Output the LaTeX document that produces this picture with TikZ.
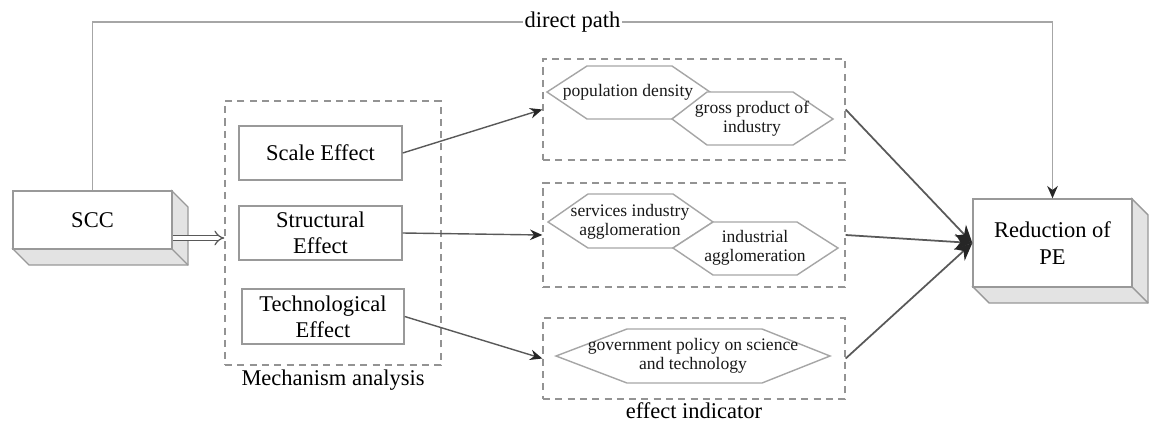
\documentclass[tikz,border=0pt]{standalone}
\usepackage{fontspec}
\setmainfont{Liberation Serif}
\usetikzlibrary{arrows.meta,positioning}

\tikzset{
  effbox/.style={draw=gray!80, line width=0.8pt, fill=white, minimum width=3.26cm, minimum height=1.08cm, align=center, font=\fontsize{12.8}{15}\selectfont},
  cubebox/.style={draw=gray!80, line width=0.8pt, fill=white, minimum width=3.18cm, align=center, font=\fontsize{12.8}{15}\selectfont},
  groupbox/.style={draw=gray!85, dashed, line width=0.8pt, dash pattern=on 4pt off 3pt},
  hexa/.style={draw=gray!70, line width=0.8pt, fill=white},
  hextext/.style={align=center, text=black!90, font=\fontsize{10}{10.8}\selectfont},
  conn/.style={draw=gray!70!black, line width=0.8pt, -{Stealth[length=7pt,width=6pt,color=black!85]}},
}

\begin{document}
\begin{tikzpicture}[x=0.02cm,y=-0.02cm]
		\useasboundingbox (0,0) rectangle (1152,423);
		% Draw 3D boxes
		\fill [gray!22, draw=gray!80, line width=0.8pt] (172,191) -- (188,207) -- (188,265) -- (29,265) -- (13,249) -- (172,249) -- cycle;
		\draw [gray!80, line width=0.8pt] (172,249) -- (188,265);
		\node [cubebox, minimum height=1.16cm] (scc) at (92.5,220) {SCC};
		\fill [gray!22, draw=gray!80, line width=0.8pt] (1132,199) -- (1148,215) -- (1148,303) -- (989,303) -- (973,287) -- (1132,287) -- cycle;
		\draw [gray!80, line width=0.8pt] (1132,287) -- (1148,303);
		\node [cubebox, minimum height=1.76cm] (red) at (1052.5,243) {Reduction of\\PE};
		% Draw mechanism analysis
		\node [groupbox, minimum width=4.32cm, minimum height=5.28cm] (mech) at (333,233) {};
		\node [anchor=base, font=\fontsize{12.8}{15}\selectfont] (mechlabel) at ([yshift=-0.4cm]mech.south) {Mechanism analysis};
		\node [effbox] (scale) at (320.5,153) {Scale Effect};
		\node [effbox] (struct) at (320.5,233) {Structural\\Effect};
		\node [effbox, minimum width=3.24cm, minimum height=1.1cm] (tech) at (323,316.5) {Technological\\Effect};
		% Draw effect indicator groups
		\node [groupbox, minimum width=6.04cm, minimum height=2.02cm] (g1) at (694,109.5) {};
		\node [groupbox, minimum width=6.04cm, minimum height=2.08cm] (g2) at (694,235) {};
		\node [groupbox, minimum width=6.04cm, minimum height=1.62cm] (g3) at (694,358.5) {};
		\node [anchor=base, font=\fontsize{12.8}{15}\selectfont, inner ysep=0pt] (efflabel) at ([yshift=-0.37cm]g3.south) {effect indicator};
		% Draw hexagons
		\draw [hexa] (547,92) -- (587,66) -- (672,66) -- (710,92) -- (672,119) -- (587,119) -- cycle;
		\draw [hexa] (672,119) -- (707,92) -- (793,92) -- (833,119) -- (793,145) -- (707,145) -- cycle;
		\draw [hexa] (548,222) -- (588,194) -- (673,194) -- (713,222) -- (673,248) -- (588,248) -- cycle;
		\draw [hexa] (673,248) -- (713,222) -- (797,222) -- (838,248) -- (797,275) -- (713,275) -- cycle;
		\draw [hexa] (556,356) -- (627,329) -- (762,329) -- (830,356) -- (762,383) -- (627,383) -- cycle;
		\node [hextext] (popd) at (628,92) {population density};
		\node [hextext] (gpi) at (752,119) {gross product of\\industry};
		\node [hextext] (sia) at (630,222) {services industry\\agglomeration};
		\node [hextext] (ia) at (755,248) {industrial\\agglomeration};
		\node [hextext] (gps) at (693,356) {government policy on science\\and technology};
		% Draw connectors
		\draw [conn] (scale.east) -- (g1.west);
		\draw [conn] (struct.east) -- (g2.west);
		\draw [conn] (tech.east) -- (g3.west);
		\draw [conn, line width=1pt, -{Stealth[length=10pt,width=9pt,color=black!85]}] (g1.east) -- (red.west);
		\draw [conn, line width=1pt, -{Stealth[length=10pt,width=9pt,color=black!85]}] (g2.east) -- (red.west);
		\draw [conn, line width=1pt, -{Stealth[length=10pt,width=9pt,color=black!85]}] (g3.east) -- (red.west);
		\draw [gray!70!black, line width=0.7pt, double, double distance=2.2pt, -{Implies}] ([yshift=-0.36cm]scc.east) -- ([yshift=-0.36cm]scc.east -| mech.west);
		% Draw direct path
		\coordinate (top1) at (scc.north |- 0,22);
		\coordinate (top2) at (red.north |- 0,22);
		\draw [conn, draw=gray!70, line width=1pt] (scc.north) -- (top1) -- node [fill=white, inner xsep=1pt, inner ysep=0pt, font=\fontsize{12.8}{15}\selectfont, text=black] (dpath) {direct path} (top2) -- (red.north);
	\end{tikzpicture}
\end{document}
